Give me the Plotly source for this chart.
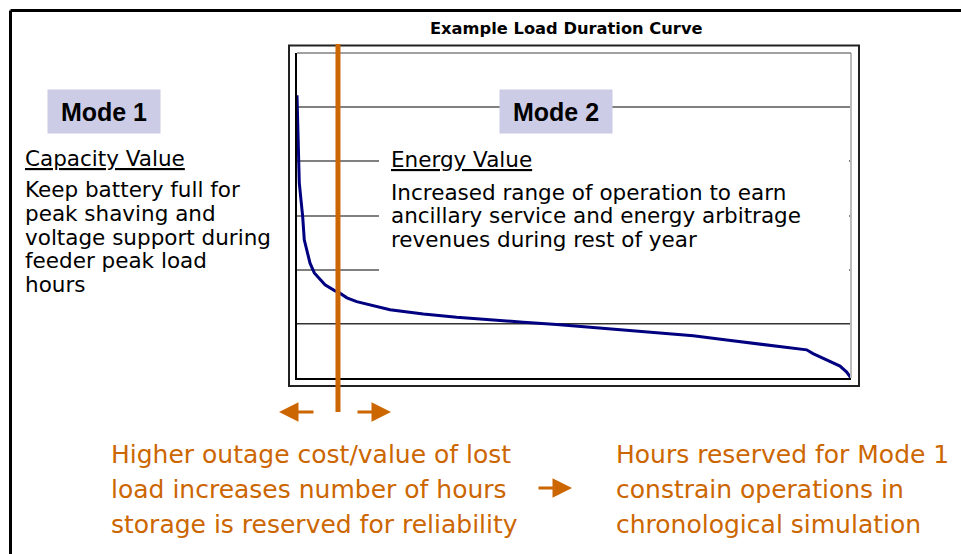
import plotly.graph_objects as go

# load duration curve (hours of the year sorted by load)
hours = [0, 21, 36, 63, 90, 115, 153, 206, 274, 337, 443, 601, 648, 790, 944,
         1471, 1997, 2525, 3052, 3578, 4106, 4633, 5213, 5740, 6266, 6794,
         7321, 7847, 8059, 8160, 8375, 8586, 8692, 8760]
load = [5.22, 4.21, 3.60, 3.29, 2.98, 2.55, 2.36, 2.12, 1.94, 1.85, 1.72, 1.61,
        1.59, 1.48, 1.41, 1.26, 1.18, 1.12, 1.07, 1.03, 0.99, 0.94, 0.89, 0.84,
        0.78, 0.70, 0.63, 0.56, 0.52, 0.45, 0.33, 0.22, 0.11, 0.0]
grid_levels = [2, 3, 4, 5, 6]
dark_level = 1
reserved_hours = 648  # hours kept for Mode 1

chart_title = "Example Load Duration Curve"
mode1_label = "Mode 1"
mode2_label = "Mode 2"
mode1_head = "Capacity Value"
mode1_lines = ["Keep battery full for", "peak shaving and", "voltage support during",
               "feeder peak load", "hours"]
mode2_head = "Energy Value"
mode2_lines = ["Increased range of operation to earn",
               "ancillary service and energy arbitrage",
               "revenues during rest of year"]
left_note = ["Higher outage cost/value of lost", "load increases number of hours",
             "storage is reserved for reliability"]
right_note = ["Hours reserved for Mode 1", "constrain operations in",
              "chronological simulation"]

W, H = 961, 554
ORANGE = '#CC6600'
LAVENDER = '#CCCCE6'
BODY = 'DejaVu Sans'


def px(x):
    return x / W


def py(y):
    return 1 - y / H


fig = go.Figure()

fig.add_trace(go.Scatter(
    x=hours, y=load, mode='lines',
    line=dict(color='#000080', width=3),
    hoverinfo='skip', showlegend=False
))

fig.update_layout(
    width=W, height=H,
    margin=dict(l=0, r=0, t=0, b=0),
    paper_bgcolor='white', plot_bgcolor='white',
    showlegend=False,
    xaxis=dict(domain=[px(297), px(851)], range=[0, 8760], showgrid=False,
               zeroline=False, showticklabels=False, ticks='',
               showline=True, linecolor='black', linewidth=1.5),
    yaxis=dict(domain=[py(378), py(53)], range=[0, 6], tickvals=grid_levels,
               showgrid=True, gridcolor='#808080', gridwidth=1.5,
               zeroline=False, showticklabels=False, ticks='',
               showline=True, linecolor='black', linewidth=1.5),
)

# outer slide frame
fig.add_shape(type='line', xref='paper', yref='paper', x0=px(10.5), x1=px(10.5),
              y0=py(10.5), y1=0, line=dict(color='black', width=3))
fig.add_shape(type='line', xref='paper', yref='paper', x0=px(10.5), x1=1,
              y0=py(10.5), y1=py(10.5), line=dict(color='black', width=3))

# chart frame and edges of plot area
fig.add_shape(type='rect', xref='paper', yref='paper', x0=px(289), x1=px(859),
              y0=py(386), y1=py(45.5), line=dict(color='#222222', width=2))
fig.add_shape(type='line', xref='paper', yref='paper', x0=px(851), x1=px(851),
              y0=py(378), y1=py(53), line=dict(color='#BBBBBB', width=2))
fig.add_shape(type='line', xref='paper', yref='paper', x0=px(297), x1=px(851),
              y0=py(53), y1=py(53), line=dict(color='#808080', width=1.5))
fig.add_shape(type='line', xref='paper', yref='y', x0=px(297), x1=px(851),
              y0=dark_level, y1=dark_level,
              line=dict(color='#333333', width=1.5), layer='below')

# white panel behind the Mode 2 text
fig.add_shape(type='rect', xref='paper', yref='paper', x0=px(379), x1=px(849),
              y0=py(290), y1=py(140), fillcolor='white', line=dict(width=0),
              layer='above')

# Mode 1 reservation boundary
fig.add_shape(type='line', xref='x', yref='paper', x0=reserved_hours, x1=reserved_hours,
              y0=py(412), y1=py(44), line=dict(color=ORANGE, width=5), layer='above')

fig.add_annotation(text=f"<b>{chart_title}</b>", xref='paper', yref='paper',
                   x=px(566), y=py(28.5), xanchor='center', yanchor='middle',
                   showarrow=False, font=dict(family=BODY, size=16.3, color='black'))

for label, cx in [(mode1_label, 104), (mode2_label, 556)]:
    fig.add_annotation(text=f"<b>{label}</b>", xref='paper', yref='paper',
                       x=px(cx), y=py(111.5), xanchor='center', yanchor='middle',
                       width=112, height=43, borderpad=0, bgcolor=LAVENDER,
                       showarrow=False,
                       font=dict(family='Liberation Sans', size=25, color='black'))


def text_line(txt, x, baseline, size, color='black', underline=False):
    font = dict(family=BODY, size=size, color=color)
    if underline:
        font['lineposition'] = 'under'
    fig.add_annotation(text=txt, xref='paper', yref='paper',
                       x=px(x), y=py(baseline - 0.35 * size),
                       xanchor='left', yanchor='middle', borderpad=0,
                       showarrow=False, font=font)


text_line(mode1_head, 24, 166, 21.5, underline=True)
for i, t in enumerate(mode1_lines):
    text_line(t, 24, 197.5 + i * 23.6, 21.5)

text_line(mode2_head, 390, 167.3, 21.5, underline=True)
for i, t in enumerate(mode2_lines):
    text_line(t, 390, 200 + i * 23.5, 21.5)

for i, t in enumerate(left_note):
    text_line(t, 110, 463.3 + i * 35, 25, color=ORANGE)
for i, t in enumerate(right_note):
    text_line(t, 615, 463.3 + i * 35, 25, color=ORANGE)

# arrows
for hx, hy, ax in [(279, 412, 36), (391, 412, -35), (572, 488, -35)]:
    fig.add_annotation(text='', xref='paper', yref='paper', x=px(hx), y=py(hy),
                       ax=ax, ay=0, showarrow=True, arrowhead=2, arrowsize=1.3,
                       arrowwidth=3, arrowcolor=ORANGE, standoff=0)

fig.write_html("out.html", config={'displayModeBar': False},
               post_script="document.body.style.margin='0';")
